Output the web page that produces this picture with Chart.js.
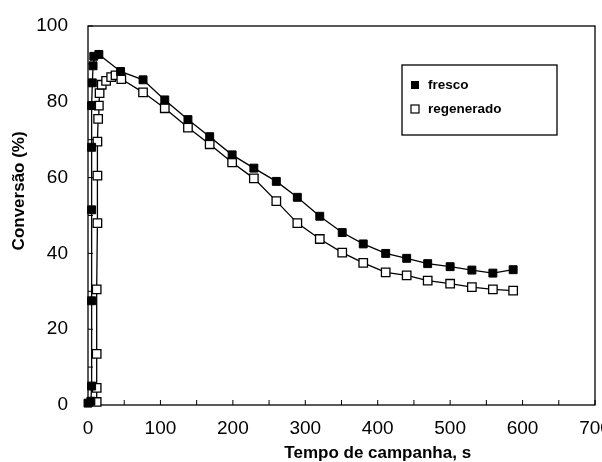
<!DOCTYPE html>
<html>
<head>
<meta charset="utf-8">
<script src="https://cdn.jsdelivr.net/npm/chart.js@4.4.1/dist/chart.umd.min.js"></script>
<style>
  html, body { margin: 0; padding: 0; background: #fff; overflow: hidden; }
  canvas { display: block; }
</style>
</head>
<body>
<canvas id="conversionChart" width="620" height="462"></canvas>
<script>
// Values (time in s, conversion in %)
const frescoTime = [0, 4, 5, 5, 5, 5, 5, 6, 7, 8, 15, 45, 76, 106, 138, 168, 199, 229, 260, 289, 320, 351, 380, 411, 440, 469, 500, 530, 559, 587];
const frescoConv = [0.5, 1, 5, 27.5, 51.5, 68, 79, 85, 89.5, 92, 92.5, 88, 85.8, 80.5, 75.3, 70.8, 66, 62.5, 59, 54.8, 49.8, 45.5, 42.5, 40, 38.7, 37.3, 36.5, 35.6, 34.8, 35.7];

const regenTime = [12, 12, 12, 12, 13, 13, 13, 14, 15, 16, 19, 25, 32, 38, 46, 76, 106, 138, 168, 199, 229, 260, 289, 320, 351, 380, 411, 440, 469, 500, 530, 559, 587];
const regenConv = [0.8, 4.5, 13.5, 30.5, 48, 60.5, 69.5, 75.5, 79, 82.3, 84.5, 85.5, 86.5, 87, 86, 82.5, 78.3, 73.2, 68.8, 64, 59.8, 53.8, 48, 43.8, 40.2, 37.5, 35, 34.2, 32.8, 32, 31.1, 30.5, 30.2];

const xLabels = [0, 100, 200, 300, 400, 500, 600, 700];
const yLabels = [0, 20, 40, 60, 80, 100];

const xTitle = 'Tempo de campanha, s';
const yTitle = 'Conversão (%)';

const toPoints = (xs, ys) => xs.map((x, i) => ({ x: x, y: ys[i] }));
const font = '"Liberation Sans", Arial, sans-serif';

// Box around the plot, inward tick marks, axis titles and the boxed legend
const decorations = {
    id: 'decorations',
    beforeDatasetsDraw(chart) {
        const { ctx, chartArea: a, scales: { x, y } } = chart;
        ctx.save();
        ctx.strokeStyle = '#000';
        ctx.lineWidth = 1.3;
        ctx.strokeRect(a.left, a.top, a.right - a.left, a.bottom - a.top);
        ctx.lineWidth = 1;
        ctx.beginPath();
        y.ticks.forEach(t => {
            const py = y.getPixelForValue(t.value);
            ctx.moveTo(a.left, py);
            ctx.lineTo(a.left + 5, py);
        });
        x.ticks.forEach(t => {
            const px = x.getPixelForValue(t.value);
            ctx.moveTo(px, a.bottom);
            ctx.lineTo(px, a.bottom - 5);
        });
        ctx.stroke();
        ctx.restore();
    },
    afterDraw(chart) {
        const { ctx, scales: { x, y } } = chart;
        ctx.save();
        ctx.fillStyle = '#000';
        ctx.font = 'bold 17px ' + font;
        ctx.textAlign = 'center';
        ctx.textBaseline = 'middle';
        ctx.fillText(xTitle, x.getPixelForValue(400), 453);

        ctx.save();
        ctx.translate(19, y.getPixelForValue(56.5));
        ctx.rotate(-Math.PI / 2);
        ctx.fillText(yTitle, 0, 0);
        ctx.restore();

        // legend
        ctx.lineWidth = 1.3;
        ctx.strokeStyle = '#000';
        ctx.strokeRect(402, 65, 155, 70);
        ctx.font = 'bold 13.5px ' + font;
        ctx.textAlign = 'left';
        chart.data.datasets.forEach((ds, i) => {
            const cy = 85 + i * 24;
            ctx.fillStyle = ds.pointBackgroundColor;
            ctx.fillRect(411, cy - 4, 8, 8);
            if (ds.pointBackgroundColor !== '#000') {
                ctx.lineWidth = 1.2;
                ctx.strokeRect(411, cy - 4, 8, 8);
            }
            ctx.fillStyle = '#000';
            ctx.fillText(ds.label, 428, cy);
        });
        ctx.restore();
    }
};

const ctx = document.getElementById('conversionChart').getContext('2d');
new Chart(ctx, {
    type: 'line',
    data: {
        datasets: [
            {
                label: 'fresco',
                data: toPoints(frescoTime, frescoConv),
                borderColor: '#000',
                borderWidth: 1.3,
                pointStyle: 'rect',
                pointRadius: 5.6,
                pointBackgroundColor: '#000',
                pointBorderColor: '#000',
                pointBorderWidth: 1,
                tension: 0,
                clip: false
            },
            {
                label: 'regenerado',
                data: toPoints(regenTime, regenConv),
                borderColor: '#000',
                borderWidth: 1.3,
                pointStyle: 'rect',
                pointRadius: 6,
                pointBackgroundColor: '#fff',
                pointBorderColor: '#000',
                pointBorderWidth: 1.3,
                tension: 0,
                clip: false
            }
        ]
    },
    options: {
        responsive: false,
        animation: false,
        layout: { padding: { top: 26, right: 25, left: 0, bottom: 0 } },
        plugins: {
            legend: { display: false },
            title: { display: false },
            tooltip: { enabled: false }
        },
        scales: {
            x: {
                type: 'linear',
                min: 0,
                max: 700,
                grid: { display: false },
                border: { display: false },
                afterFit: s => { s.height = 57; },
                ticks: {
                    stepSize: 50,
                    autoSkip: false,
                    maxRotation: 0,
                    padding: 4,
                    color: '#000',
                    font: { family: font, size: 19 },
                    callback: v => xLabels.includes(v) ? String(v) : ''
                }
            },
            y: {
                min: 0,
                max: 100,
                grid: { display: false },
                border: { display: false },
                afterFit: s => { s.width = 88; },
                ticks: {
                    stepSize: 10,
                    autoSkip: false,
                    padding: 12,
                    color: '#000',
                    font: { family: font, size: 19 },
                    callback: v => yLabels.includes(v) ? String(v) : ''
                }
            }
        }
    },
    plugins: [decorations]
});
</script>
</body>
</html>
